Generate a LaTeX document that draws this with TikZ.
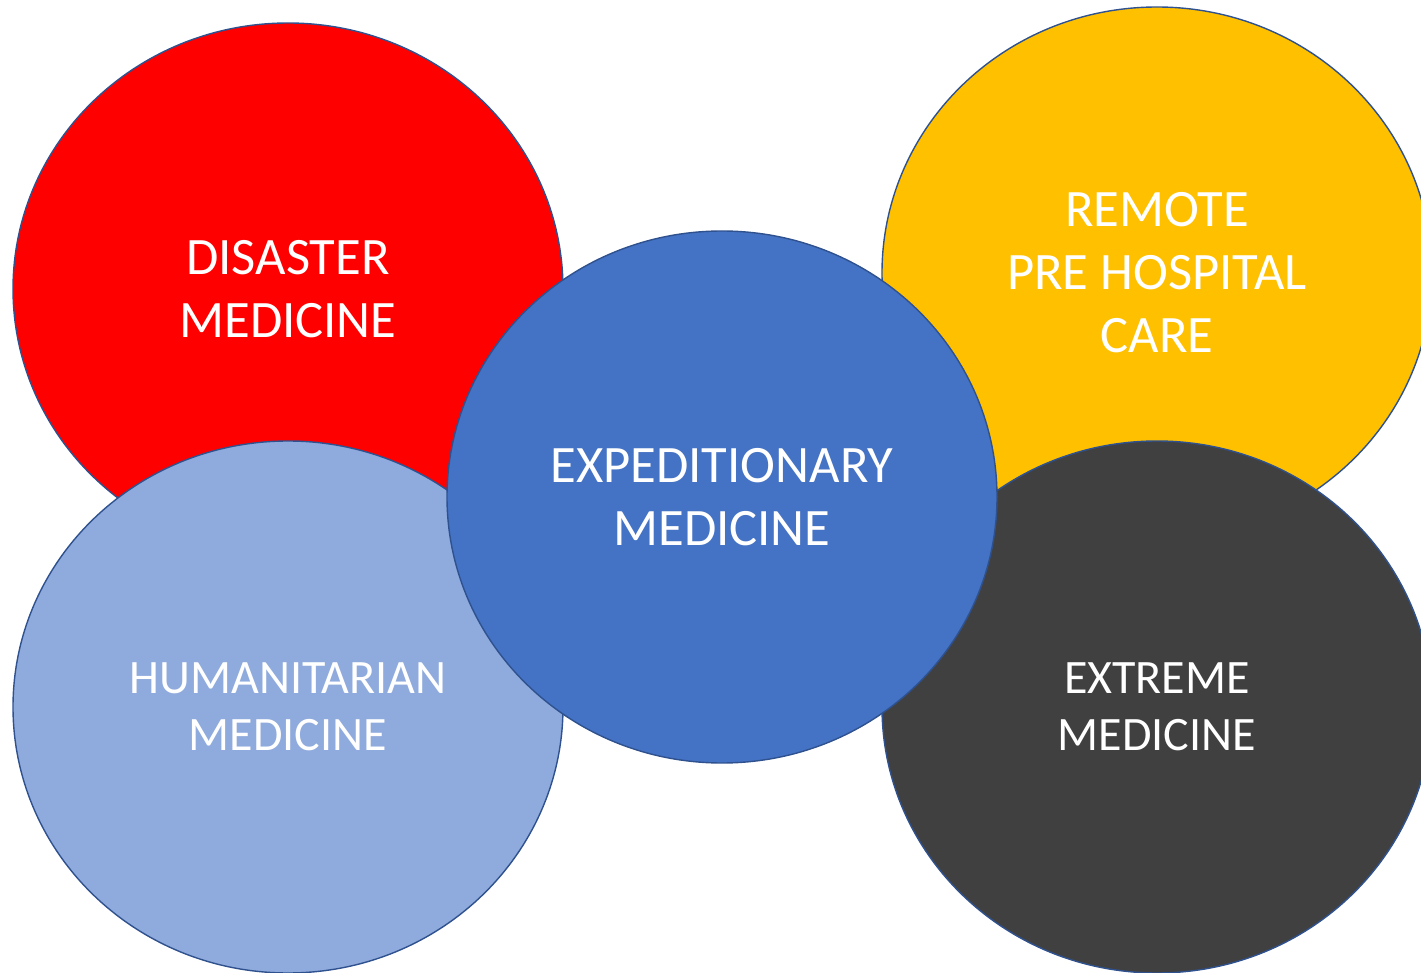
\documentclass[tikz,border=0pt]{standalone}
\usepackage{fontspec}
\setmainfont{Carlito}
\usetikzlibrary{shapes.geometric}

\definecolor{edgeblue}{HTML}{2F528F}
\definecolor{expblue}{HTML}{4472C4}
\definecolor{humblue}{HTML}{8FAADC}
\definecolor{remyellow}{HTML}{FFC000}
\definecolor{extgray}{HTML}{404040}

\tikzset{
    bubble/.style={ellipse, draw=edgeblue, line width=0.7pt, inner sep=0pt,
        minimum width=275pt, minimum height=266pt, text=white, align=center,
        font=\fontsize{26.3pt}{31.5pt}\selectfont},
    smalltext/.style={font=\fontsize{24pt}{28.5pt}\selectfont}
}

\begin{document}
\begin{tikzpicture}[x=0.5pt, y=-0.5pt]
    \useasboundingbox (0,0) rectangle (1421,973);      % page size of the reference

    \node [bubble, fill=red] (disaster) at (288,289) {DISASTER\\MEDICINE};
    \node [bubble, fill=remyellow] (remote) at (1157,273) {REMOTE\\PRE HOSPITAL\\CARE};
    \node [bubble, fill=humblue, smalltext] (humanitarian) at (288,707) {HUMANITARIAN\\MEDICINE};
    \node [bubble, fill=extgray, smalltext] (extreme) at (1157,707) {EXTREME\\MEDICINE};

    \node [bubble, fill=expblue] (expeditionary) at (722,497) {EXPEDITIONARY\\MEDICINE};   % on top of the others
\end{tikzpicture}
\end{document}
